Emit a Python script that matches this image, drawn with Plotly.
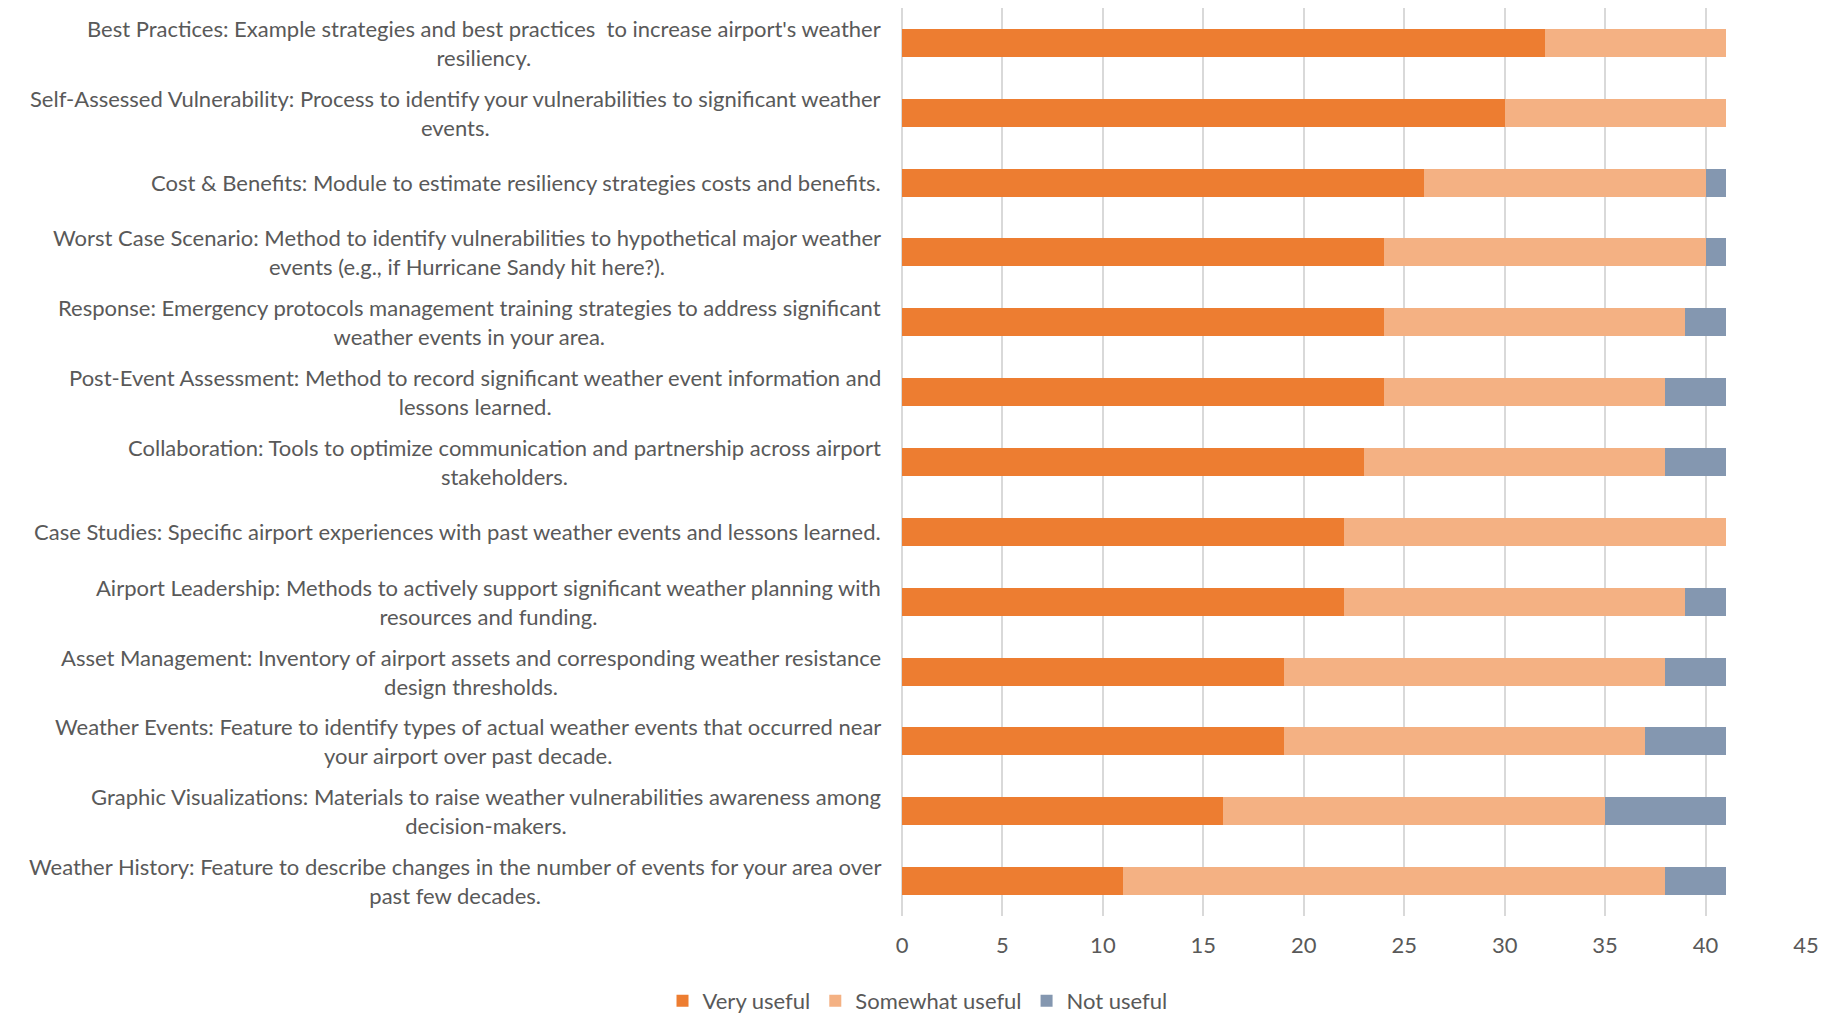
import plotly.graph_objects as go

categories = [
    "Best Practices: Example strategies and best practices  to increase airport's weather<br>resiliency.",
    "Self-Assessed Vulnerability: Process to identify your vulnerabilities to significant weather<br>events.",
    "Cost & Benefits: Module to estimate resiliency strategies costs and benefits.",
    "Worst Case Scenario: Method to identify vulnerabilities to hypothetical major weather<br>events (e.g., if Hurricane Sandy hit here?).",
    "Response: Emergency protocols management training strategies to address significant<br>weather events in your area.",
    "Post-Event Assessment: Method to record significant weather event information and<br>lessons learned.",
    "Collaboration: Tools to optimize communication and partnership across airport<br>stakeholders.",
    "Case Studies: Specific airport experiences with past weather events and lessons learned.",
    "Airport Leadership: Methods to actively support significant weather planning with<br>resources and funding.",
    "Asset Management: Inventory of airport assets and corresponding weather resistance<br>design thresholds.",
    "Weather Events: Feature to identify types of actual weather events that occurred near<br>your airport over past decade.",
    "Graphic Visualizations: Materials to raise weather vulnerabilities awareness among<br>decision-makers.",
    "Weather History: Feature to describe changes in the number of events for your area over<br>past few decades.",
]
very_useful = [32, 30, 26, 24, 24, 24, 23, 22, 22, 19, 19, 16, 11]
somewhat_useful = [9, 11, 14, 16, 15, 14, 15, 19, 17, 19, 18, 19, 27]
not_useful = [0, 0, 1, 1, 2, 3, 3, 0, 2, 3, 4, 6, 3]
x_ticks = [0, 5, 10, 15, 20, 25, 30, 35, 40, 45]

series = [
    ("Very useful", very_useful, "#ED7D31"),
    ("Somewhat useful", somewhat_useful, "#F4B183"),
    ("Not useful", not_useful, "#8497B0"),
]

FONT = "Lato, sans-serif"
TXT = "#595959"
fig = go.Figure()
for name, vals, color in series:
    fig.add_trace(go.Bar(
        y=categories, x=vals, name=name, orientation="h",
        marker=dict(color=color, line=dict(width=0)),
    ))

for cat in categories:
    fig.add_annotation(
        x=0, xref="paper", y=cat, yref="y", text=cat,
        xanchor="right", yanchor="middle", align="center",
        xshift=-19, showarrow=False,
        font=dict(family=FONT, size=22, color=TXT),
    )

fig.update_layout(
    barmode="stack",
    bargap=0.6,
    width=1830, height=1005,
    margin=dict(l=894, r=32, t=0, b=97, autoexpand=False),
    plot_bgcolor="white", paper_bgcolor="white",
    font=dict(family=FONT, size=22, color=TXT),
    xaxis=dict(
        range=[0, 45], tickvals=x_ticks, showgrid=True,
        gridcolor="#D9D9D9", gridwidth=1.5, zeroline=True,
        zerolinecolor="#D9D9D9", zerolinewidth=1.5,
        tickfont=dict(size=22, color=TXT), ticks="",
        ticklabelstandoff=14, automargin=False,
    ),
    yaxis=dict(
        autorange="reversed", ticks="", showticklabels=False,
        automargin=False,
    ),
    legend=dict(
        orientation="h", xref="container", yref="container",
        x=0.497, xanchor="center", y=0.012, yanchor="middle",
        font=dict(size=22, color=TXT),
        traceorder="normal", itemwidth=30,
    ),
)

fig.write_html("out.html")
